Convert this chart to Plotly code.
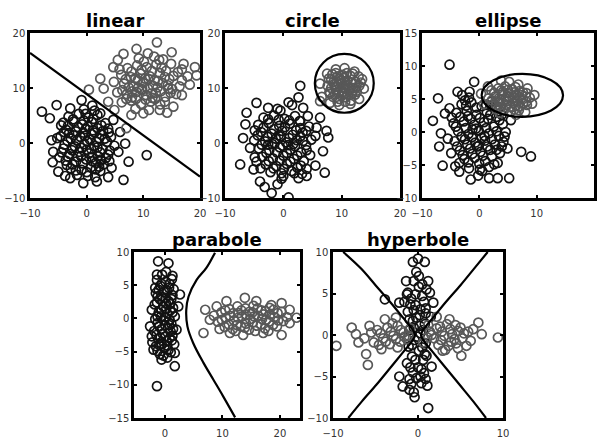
import plotly.graph_objects as go

# ---------------- data ----------------
panel_titles = ["linear", "circle", "ellipse", "parabole", "hyperbole"]

linear_class1 = [
    (-7.9, 5.7), (-6.5, 4.5), (-5.3, 6.9), (-6.2, 0.5), (-5.9, -1.6), (-5.0, -5.2), (-2.9, -6.4),
    (-0.6, -7.3), (1.8, -7.0), (6.5, -6.7), (7.4, -3.4), (10.6, -2.2), (5.6, -1.6), (6.8, -0.1),
    (5.9, 2.0), (4.7, 4.2), (2.4, 5.4), (-0.9, 7.8), (-2.9, 6.3), (-4.5, 3.2), (-6.0, -3.5),
    (-3.8, -6.0), (3.8, -6.2), (4.4, -4.5), (1.0, 6.8),
    (-3.2, 4.8), (-1.4, 5.3), (0.3, 4.6), (1.9, 5.1), (-4.1, 3.7), (-2.3, 3.9), (-0.8, 3.4), (0.9, 3.8),
    (2.6, 3.2), (3.8, 2.6), (-3.6, 2.4), (-1.9, 2.1), (-0.2, 2.5), (1.4, 1.9), (2.9, 2.2), (4.3, 1.1),
    (-4.6, 1.2), (-2.8, 0.8), (-1.1, 1.1), (0.6, 0.6), (2.2, 0.9), (3.6, 0.2), (-3.9, -0.3), (-2.1, -0.6),
    (-0.4, -0.2), (1.3, -0.5), (2.8, -1.1), (4.1, -1.4), (-4.4, -1.7), (-3.0, -2.0), (-1.3, -1.6),
    (0.4, -1.9), (2.0, -2.4), (3.4, -2.7), (-3.7, -3.2), (-1.9, -3.4), (-0.1, -3.0), (1.6, -3.6),
    (3.0, -3.9), (-2.8, -4.6), (-0.9, -4.9), (0.8, -4.4), (2.4, -5.1), (-1.7, -5.8), (0.2, -6.0),
    (1.5, -6.2), (-4.8, -2.6), (-5.2, 0.9), (4.9, -0.5), (-0.5, 6.1), (-2.5, -0.9), (0.9, 1.6),
    (-1.6, -2.5), (1.9, -0.8), (-0.3, 1.3), (2.5, -3.2), (-3.1, 1.8), (0.0, -1.2),
    (-2.4, 4.3), (-0.5, 4.1), (1.2, 4.4), (-3.3, 3.1), (-1.5, 2.9), (0.2, 3.0), (1.9, 2.7), (3.3, 3.6),
    (-4.0, 2.0), (-2.3, 1.4), (-0.6, 1.9), (1.1, 2.3), (2.6, 1.5), (3.9, 1.9), (-3.4, 0.4), (-1.7, 0.5),
    (0.1, 0.3), (1.8, 0.2), (3.2, 0.8), (-4.1, -1.0), (-2.6, -1.3), (-0.9, -0.9), (0.8, -1.1),
    (2.4, -1.7), (3.8, -2.1), (-3.3, -2.5), (-1.0, -2.4), (0.9, -2.6), (2.5, -3.0), (-2.5, -3.9),
    (-0.7, -3.7), (1.0, -3.3), (2.2, -4.3), (-1.9, -5.0), (0.0, -5.3), (1.6, -4.8), (-3.5, -4.0),
    (4.0, -3.3), (-0.2, 5.3), (1.4, 5.9),
]
linear_class2 = [
    (12.4, 18.3), (8.8, 17.1), (6.5, 16.2), (15.0, 16.5), (17.1, 14.4), (19.1, 13.8), (19.4, 12.3),
    (16.8, 11.4), (16.8, 8.7), (15.3, 6.6), (12.9, 6.0), (10.0, 5.4), (7.9, 5.1), (4.9, 6.0), (3.8, 7.5),
    (2.4, 11.7), (3.0, 9.9), (4.7, 13.8), (7.0, 2.7), (0.4, 9.7), (5.5, 15.1), (10.8, 16.3),
    (13.5, 15.2), (18.2, 10.6), (14.2, 5.5),
    (7.2, 13.6), (8.9, 14.1), (10.6, 13.8), (12.3, 14.3), (14.0, 13.1), (6.1, 12.4), (7.8, 12.0),
    (9.5, 12.6), (11.2, 12.1), (12.9, 12.7), (14.6, 11.6), (16.1, 12.9), (6.6, 10.8), (8.3, 10.3),
    (10.0, 10.9), (11.7, 10.4), (13.4, 10.9), (15.1, 9.8), (5.4, 9.2), (7.1, 8.9), (8.8, 9.3),
    (10.5, 8.7), (12.2, 9.1), (13.9, 8.4), (6.2, 7.4), (7.9, 7.7), (9.6, 7.1), (11.3, 7.5), (13.0, 7.0),
    (15.8, 8.9), (9.2, 15.4), (11.9, 15.7), (4.8, 11.1), (16.4, 10.3), (8.6, 6.2), (11.0, 6.0),
    (9.0, 11.4), (10.9, 11.6), (12.6, 11.3), (9.8, 9.8), (11.6, 8.2), (8.0, 8.3), (14.4, 9.9),
    (7.9, 13.0), (9.7, 13.3), (11.5, 13.1), (13.2, 13.7), (6.9, 11.6), (8.6, 11.8), (10.3, 11.7),
    (12.0, 11.4), (13.8, 12.0), (15.3, 12.2), (7.4, 10.1), (9.1, 10.1), (10.8, 9.9), (12.5, 10.1),
    (14.3, 10.5), (6.3, 9.6), (8.0, 9.4), (9.7, 9.6), (11.4, 9.0), (13.1, 9.4), (14.8, 9.1),
    (7.0, 8.0), (8.7, 8.0), (10.4, 7.9), (12.1, 8.0), (13.8, 7.5), (10.1, 14.8), (12.8, 15.1),
    (14.9, 14.4), (16.8, 13.4), (17.8, 12.1), (5.8, 13.4),
]
linear_boundary = [(-10.0, 16.4), (20.0, -6.1)]

circle_class1 = [
    (2.9, 10.4), (2.6, 8.3), (3.4, 6.4), (-4.6, 7.3), (-2.6, 6.4), (-6.3, 5.5), (-6.9, 0.9),
    (-5.7, -0.9), (-7.4, -3.9), (-5.1, -4.8), (-4.0, -7.0), (-2.0, -9.1), (0.9, -9.9), (0.0, -6.0),
    (4.0, -6.0), (7.1, -5.4), (7.7, 1.0), (7.4, 2.2), (5.7, 2.8), (6.3, 4.6), (2.9, 4.0), (-1.0, -7.5),
    (-3.2, -8.0), (5.5, -4.1), (6.8, -1.5), (-6.5, 3.4), (1.5, 6.9), (-0.5, 5.9), (-4.9, -2.6),
    (2.6, -6.4),
    (-3.4, 4.6), (-1.6, 5.0), (0.2, 4.4), (2.0, 4.9), (-4.3, 3.3), (-2.5, 3.6), (-0.7, 3.1), (1.1, 3.5),
    (2.9, 2.7), (4.4, 3.0), (-3.8, 2.0), (-2.0, 1.7), (-0.2, 2.2), (1.6, 1.5), (3.3, 1.9), (4.8, 0.6),
    (-5.0, 0.5), (-3.1, 0.3), (-1.3, 0.8), (0.5, 0.1), (2.3, 0.5), (3.9, -0.4), (-4.2, -1.0),
    (-2.4, -1.3), (-0.6, -0.8), (1.2, -1.2), (3.0, -1.7), (4.6, -2.2), (-3.6, -2.5), (-1.8, -2.8),
    (0.0, -2.3), (1.8, -2.9), (3.5, -3.3), (-3.0, -3.9), (-1.2, -4.2), (0.6, -3.8), (2.4, -4.5),
    (-2.2, -5.3), (-0.3, -5.5), (1.4, -5.1), (3.2, -5.6), (-4.6, -3.4), (-1.0, 6.2), (0.9, 7.4),
    (4.2, 4.9), (-1.5, 0.0), (0.8, -0.4), (-0.4, 1.2), (2.0, -0.6), (-2.6, -0.3),
    (-2.6, 4.3), (-0.8, 4.2), (1.0, 4.1), (2.8, 4.0), (-3.4, 2.8), (-1.6, 2.5), (0.3, 2.9), (2.2, 2.3),
    (3.9, 2.2), (-4.4, 1.4), (-2.7, 1.1), (-0.8, 1.4), (1.0, 0.9), (2.9, 1.2), (-3.7, -0.3),
    (-1.9, -0.2), (-0.1, -0.5), (1.7, -0.2), (3.4, 0.4), (-2.9, -1.8), (-1.1, -1.7), (0.6, -1.8),
    (2.4, -2.3), (4.0, -1.3), (-2.5, -3.3), (-0.6, -3.2), (1.2, -3.4), (3.0, -4.1), (-1.7, -4.6),
    (0.1, -4.7), (1.9, -5.5), (-3.9, -4.6), (4.0, -4.7), (-4.9, 2.3), (5.5, 1.3), (-0.3, -6.5),
]
circle_class2 = [
    (6.3, 10.8), (6.6, 8.4), (7.5, 12.6), (9.0, 13.4), (10.5, 13.6), (12.2, 13.0), (13.5, 11.6),
    (13.8, 9.9), (13.0, 8.0), (11.5, 7.1), (9.6, 6.9), (8.0, 7.3), (6.3, 7.6),
    (8.2, 11.6), (9.3, 12.1), (10.4, 11.8), (11.5, 12.2), (12.4, 11.1), (7.6, 10.4), (8.7, 10.7),
    (9.8, 10.9), (10.9, 10.5), (12.0, 10.0), (13.0, 10.4), (7.9, 9.3), (9.0, 9.6), (10.1, 9.2),
    (11.2, 9.5), (12.3, 8.8), (8.5, 8.4), (9.6, 8.0), (10.7, 8.3), (11.6, 7.7), (9.2, 10.2),
    (10.3, 10.0), (9.9, 11.3), (11.0, 11.3), (8.9, 8.9), (10.5, 9.0), (11.8, 9.0), (8.4, 12.5),
    (10.9, 12.7), (12.9, 12.1),
    (8.6, 11.1), (9.6, 11.7), (10.6, 11.2), (11.6, 11.0), (12.5, 10.1), (8.2, 10.0), (9.4, 9.1),
    (10.0, 8.6), (11.1, 8.8), (12.0, 9.6), (8.9, 10.3), (10.5, 10.6), (11.3, 10.1), (9.0, 12.7),
    (10.1, 12.4), (11.9, 12.6), (8.0, 9.0), (12.6, 9.3), (9.3, 7.5), (10.6, 7.5), (7.8, 11.7),
    (13.3, 11.0),
]
circle_boundary = [5.4, 5.5, 15.5, 16.2]  # x0, y0, x1, y1 of the contour

ellipse_class1 = [
    (-5.2, 10.2), (-7.2, 5.1), (-8.1, 1.7), (-3.8, 6.1), (-1.7, 6.1), (-0.9, 7.6), (-5.2, 3.6),
    (-6.7, -0.2), (-7.0, -2.2), (-6.4, -5.1), (-4.9, -3.2), (-3.5, -6.0), (-1.5, -7.2), (1.7, -7.0),
    (3.2, -7.0), (5.2, -7.0), (3.2, -4.7), (4.9, -2.5), (7.3, -3.0), (9.0, -3.7), (5.5, 1.8),
    (4.4, -0.7), (-6.0, 2.8), (-2.5, 4.8), (2.0, 3.9), (-4.2, -5.2), (0.5, -5.9), (3.9, 2.6),
    (-3.1, 4.2), (-1.4, 4.5), (0.4, 3.9), (2.1, 4.6), (-4.0, 2.9), (-2.2, 3.2), (-0.5, 2.6), (1.3, 3.0),
    (3.0, 2.3), (-4.5, 1.3), (-2.7, 1.6), (-0.9, 1.1), (0.8, 1.5), (2.5, 0.8), (4.1, 1.2), (-3.7, 0.1),
    (-1.9, -0.3), (-0.1, 0.2), (1.7, -0.2), (3.4, -0.6), (-4.3, -1.4), (-2.5, -1.1), (-0.7, -1.6),
    (1.0, -1.3), (2.7, -1.9), (-3.4, -2.8), (-1.6, -2.5), (0.2, -3.0), (1.9, -2.7), (3.6, -3.2),
    (-2.6, -4.1), (-0.8, -3.9), (1.0, -4.4), (2.6, -4.9), (-1.8, -5.5), (0.1, -5.7), (-5.5, -1.0),
    (-3.0, 5.6), (4.2, -1.5), (-0.2, -6.6), (-1.2, 0.4), (0.9, -0.6), (-2.0, 2.4), (1.5, 2.0),
    (-0.4, -2.2),
    (-2.3, 4.0), (-0.5, 3.7), (1.2, 4.1), (-3.3, 2.3), (-1.5, 2.0), (0.1, 2.1), (1.9, 2.6), (3.5, 1.8),
    (-4.1, 0.8), (-2.4, 0.6), (-0.6, 0.5), (1.2, 0.6), (3.0, 0.1), (-3.1, -0.7), (-1.3, -0.8),
    (0.4, -0.9), (2.2, -1.1), (3.9, -2.2), (-3.9, -2.2), (-2.1, -1.9), (-0.1, -2.1), (1.4, -2.2),
    (3.0, -2.7), (-2.9, -3.5), (-1.2, -3.3), (0.6, -3.6), (2.2, -3.7), (-1.9, -4.6), (0.0, -4.8),
    (1.7, -5.3), (-3.5, -4.7), (-4.8, 2.2), (4.6, 0.0), (-1.8, 5.2),
]
ellipse_class2 = [
    (9.6, 5.6), (8.4, 6.6), (5.2, 7.6), (3.8, 7.8), (0.3, 5.8), (0.8, 4.2), (1.5, 6.9), (6.8, 7.2),
    (9.2, 4.3), (8.0, 3.0), (6.4, 2.6), (3.6, 2.9),
    (2.1, 6.3), (3.3, 6.6), (4.5, 6.9), (5.7, 6.5), (7.0, 6.2), (8.2, 5.9), (1.6, 5.1), (2.8, 5.4),
    (4.0, 5.7), (5.2, 5.3), (6.4, 5.6), (7.6, 5.0), (8.8, 5.2), (2.3, 4.2), (3.5, 4.5), (4.7, 4.1),
    (5.9, 4.4), (7.1, 3.9), (8.3, 4.1), (3.0, 3.4), (4.3, 3.3), (5.5, 3.1), (6.9, 3.3), (4.1, 6.1),
    (6.1, 6.0), (3.8, 4.9), (6.7, 4.7), (5.0, 5.9), (7.4, 5.6),
    (2.6, 5.9), (3.8, 6.3), (5.0, 6.4), (6.3, 6.8), (7.6, 6.0), (2.2, 4.8), (3.4, 5.1), (4.6, 5.0),
    (5.8, 5.0), (7.0, 5.3), (8.2, 4.6), (2.9, 4.0), (4.1, 4.4), (5.3, 3.8), (6.4, 4.0), (7.6, 4.3),
    (3.7, 3.7), (6.1, 3.4), (4.9, 4.7), (6.2, 5.2),
]
ellipse_boundary = [0.4, 2.3, 14.6, 8.8]  # x0, y0, x1, y1 of the contour

parabole_class1 = [
    (-1.2, 8.6), (0.6, 8.3), (-1.4, 6.6), (-1.7, 4.6), (2.6, 3.6), (-2.3, 1.3), (-2.6, -1.2),
    (-2.3, -2.7), (-2.0, -4.7), (-0.6, -6.2), (1.7, -7.2), (-1.4, -10.2), (2.3, 1.8), (2.0, -1.7),
    (1.7, -5.2), (1.3, 6.4), (0.2, 7.0), (-2.2, -3.6),
    (-1.4, 5.8), (0.1, 5.5), (1.2, 5.9), (-0.8, 4.9), (0.7, 4.6), (-1.6, 3.8), (-0.2, 4.0), (1.3, 3.5),
    (-0.9, 2.9), (0.6, 2.6), (-1.8, 2.1), (-0.3, 1.8), (1.4, 1.6), (-1.1, 0.9), (0.4, 0.7), (1.7, 0.3),
    (-1.7, -0.1), (-0.2, -0.3), (1.1, -0.8), (-1.0, -1.2), (0.5, -1.5), (-1.9, -1.9), (-0.4, -2.3),
    (1.3, -2.6), (-1.2, -3.1), (0.3, -3.4), (1.6, -3.9), (-1.6, -4.2), (-0.1, -4.5), (1.0, -5.1),
    (-0.9, -5.4), (0.4, -5.9), (-0.6, 3.3), (0.0, -1.0), (-0.5, 6.6), (0.9, 1.2), (-0.7, 0.3),
    (0.8, -3.0), (-0.6, -3.8), (0.2, 2.2),
    (-0.6, 5.2), (0.8, 5.2), (-1.1, 4.3), (0.3, 4.2), (1.5, 4.4), (-1.3, 3.3), (0.1, 3.1), (1.1, 2.9),
    (-1.4, 2.4), (0.9, 2.2), (-0.6, 1.3), (0.2, 1.4), (1.3, 0.9), (-1.3, 0.3), (0.0, 0.2), (0.8, -0.2),
    (-1.3, -0.7), (-0.6, -1.6), (0.7, -1.0), (1.4, -1.6), (-1.5, -2.5), (0.1, -2.7), (1.0, -2.0),
    (-0.8, -2.9), (1.2, -3.3), (-1.0, -4.0), (0.4, -4.1), (-1.3, -4.9), (0.6, -4.8), (-0.3, -5.6),
]
parabole_class2 = [
    (7.0, 1.3), (6.7, -2.2), (7.8, -0.2), (9.0, 1.8), (10.7, 2.6), (13.9, 3.1), (15.9, 2.6),
    (20.3, 2.3), (21.7, 1.3), (22.9, 0.1), (21.7, -0.7), (20.3, -2.5), (17.1, -2.2), (13.6, -2.5),
    (11.3, -2.2), (18.5, 2.0), (9.5, -1.6),
    (9.8, 0.9), (11.2, 1.4), (12.6, 1.8), (14.0, 1.5), (15.4, 1.9), (16.8, 1.2), (18.2, 1.6),
    (19.6, 0.8), (9.2, -0.5), (10.6, 0.1), (12.0, -0.3), (13.4, 0.3), (14.8, -0.1), (16.2, 0.4),
    (17.6, -0.2), (19.0, 0.2), (20.6, -0.4), (10.4, -1.3), (11.8, -1.6), (13.2, -1.2), (14.6, -1.7),
    (16.0, -1.1), (17.4, -1.5), (18.8, -1.0), (15.2, 0.9), (12.8, 0.8), (17.1, 0.6), (14.1, -0.8),
    (10.5, 1.2), (11.9, 0.8), (13.3, 1.2), (14.7, 1.0), (16.1, 1.5), (17.5, 1.1), (18.9, 1.3),
    (20.3, 1.0), (9.9, -0.2), (11.3, 0.4), (12.7, 0.1), (14.1, 0.6), (15.5, 0.3), (16.9, -0.1),
    (18.3, 0.6), (19.7, -0.3), (21.2, 0.2), (11.1, -0.9), (12.5, -1.0), (13.9, -1.4), (15.3, -0.6),
    (16.7, -0.9), (18.1, -0.5), (19.5, -1.2), (12.3, -1.9), (15.7, -1.9), (18.0, -1.9), (8.5, 0.4),
]
parabole_boundary = [
    (8.7, 9.9), (7.2, 7.6), (5.5, 5.8), (4.1, 3.3), (3.7, 1.3), (3.9, -1.2), (4.9, -3.7),
    (6.7, -6.7), (8.4, -9.2), (10.1, -11.7), (12.2, -14.9),
]

hyperbole_class1 = [
    (0.0, 9.2), (-0.6, 8.8), (0.8, 8.8), (-0.2, 7.6), (-1.4, 6.5), (1.2, 6.5), (1.4, 5.1),
    (-1.2, 5.1), (-3.9, 4.3), (-2.2, 3.9), (1.8, 3.9), (1.0, -2.5), (1.6, -3.8), (-2.2, -5.0),
    (-1.8, -6.2), (-1.0, -6.6), (0.4, -5.8), (1.2, -8.8), (-0.5, -6.9), (1.1, -6.1),
    (-0.8, 4.4), (0.5, 4.7), (-0.3, 3.6), (0.9, 3.2), (-1.2, 2.8), (0.2, 2.4), (-0.6, 1.7), (0.8, 1.3),
    (-1.0, 0.6), (0.3, 0.2), (-0.4, -0.6), (0.9, -1.0), (-1.1, -1.4), (0.1, -1.9), (-0.7, -2.6),
    (0.6, -3.0), (-1.3, -3.4), (0.0, -3.9), (-0.6, -4.5), (0.7, -4.6), (-0.2, -5.2), (-1.6, 4.0),
    (1.5, 2.2), (0.1, 5.8), (-0.5, 3.0),
    (-0.3, 4.9), (0.7, 4.0), (-0.9, 3.7), (0.3, 3.1), (-0.2, 2.1), (0.9, 2.6), (-1.0, 1.9), (0.2, 1.1),
    (-0.5, 0.9), (0.6, 0.6), (-0.1, -0.2), (0.5, -1.5), (-0.7, -1.2), (-0.3, -3.0), (0.8, -2.3),
    (-0.9, -3.9), (0.4, -4.1), (-1.0, -5.3), (0.3, -5.0), (-0.5, 6.5), (0.5, 6.1), (0.1, 7.1),
    (-0.8, -5.9), (0.9, -5.3), (-1.3, 4.9), (1.0, 5.5), (-0.4, -7.5),
]
hyperbole_class2 = [
    (-9.6, -1.3), (-7.8, 0.9), (-7.3, 0.1), (-7.0, -0.9), (-5.7, 1.1), (-6.1, -2.3), (-5.9, -3.6),
    (-4.3, -1.7), (-3.9, 1.9), (3.7, 1.9), (4.7, 0.5), (5.7, -1.3), (5.1, -2.5), (7.1, 1.5),
    (7.5, 0.1), (6.5, 0.7), (9.4, -0.3), (2.9, -1.9), (-2.6, 2.1), (2.2, 2.2),
    (-4.8, 0.6), (-3.6, 0.9), (-2.4, 1.1), (-4.1, -0.4), (-2.9, -0.1), (-1.7, 0.3), (-3.3, -1.1),
    (-2.1, -0.8), (-5.2, -0.9), (-1.3, -0.5), (1.4, 0.4), (2.6, 1.0), (3.8, 0.7), (5.0, 0.9),
    (1.9, -0.4), (3.1, -0.1), (4.3, -0.5), (5.4, 0.2), (2.4, -1.2), (3.6, -1.3), (4.7, -1.6),
    (1.2, 1.2), (-0.9, 0.8), (0.6, -0.9),
    (-4.4, 0.2), (-3.2, 0.4), (-2.0, 0.6), (-3.8, -0.8), (-2.6, -0.5), (-1.6, -0.2), (-4.6, -1.2),
    (-3.0, 1.4), (-5.5, 0.3), (-6.3, -0.4), (-2.4, -1.5), (1.6, 0.0), (2.8, 0.4), (4.0, 0.1),
    (5.2, -0.4), (2.2, 0.8), (3.4, 1.3), (4.4, 1.2), (2.7, -0.6), (3.9, -0.8), (5.9, 0.4),
    (3.2, -1.8), (4.5, -1.0), (6.2, -0.7), (1.1, -0.3), (-1.1, -0.1),
]
hyperbole_left = [
    (-8.8, 10.0), (-6.7, 8.0), (-5.0, 6.0), (-3.3, 4.0), (-1.7, 2.0), (-0.9, 1.0), (-0.35, 0.0),
    (-0.9, -1.0), (-1.7, -2.0), (-3.3, -4.0), (-4.9, -6.0), (-6.6, -8.0), (-8.2, -10.0),
]
hyperbole_right = [
    (8.2, 10.0), (6.6, 8.0), (5.0, 6.0), (3.3, 4.0), (1.7, 2.0), (0.9, 1.0), (0.35, 0.0),
    (0.9, -1.0), (1.7, -2.0), (3.3, -4.0), (4.9, -6.0), (6.5, -8.0), (8.0, -10.0),
]

# ---------------- layout constants ----------------
W, H = 598, 441
panels = [
    dict(px=(30, 200), py=(33, 198), xr=[-10, 20], yr=[-10, 20], xt=[-10, 0, 10, 20], yt=[-10, 0, 10, 20]),
    dict(px=(225, 400), py=(33, 198), xr=[-10, 20], yr=[-10, 20], xt=[-10, 0, 10, 20], yt=[-10, 0, 10, 20]),
    dict(px=(422, 594), py=(33, 198), xr=[-10, 20], yr=[-10, 15], xt=[-10, 0, 10, 20], yt=[-10, -5, 0, 5, 10, 15]),
    dict(px=(134, 300), py=(252, 418), xr=[-5.4, 23.5], yr=[-15, 10], xt=[0, 10, 20], yt=[-15, -10, -5, 0, 5, 10]),
    dict(px=(333, 503), py=(252, 418), xr=[-10, 10], yr=[-10, 10], xt=[-10, 0, 10], yt=[-10, -5, 0, 5, 10]),
]

C1 = "#121212"
C2 = "#585858"
fig = go.Figure()


def split(pts):
    return [p[0] for p in pts], [p[1] for p in pts]


def add_points(i, pts, color):
    xs, ys = split(pts)
    fig.add_trace(go.Scatter(
        x=xs, y=ys, mode="markers", xaxis=f"x{i+1}", yaxis=f"y{i+1}", showlegend=False,
        marker=dict(symbol="circle-open", size=9, color=color, line=dict(width=1.7, color=color)),
    ))


def add_curve(i, pts):
    xs, ys = split(pts)
    fig.add_trace(go.Scatter(
        x=xs, y=ys, mode="lines", xaxis=f"x{i+1}", yaxis=f"y{i+1}", showlegend=False,
        line=dict(color="black", width=2.2, shape="spline"),
    ))


classes = [
    (linear_class1, linear_class2), (circle_class1, circle_class2), (ellipse_class1, ellipse_class2),
    (parabole_class1, parabole_class2), (hyperbole_class1, hyperbole_class2),
]
for i, (a, b) in enumerate(classes):
    add_points(i, a, C1)
    add_points(i, b, C2)

add_curve(0, linear_boundary)
add_curve(3, parabole_boundary)
add_curve(4, hyperbole_left)
add_curve(4, hyperbole_right)

for i, bnd in ((1, circle_boundary), (2, ellipse_boundary)):
    fig.add_shape(type="circle", xref=f"x{i+1}", yref=f"y{i+1}",
                  x0=bnd[0], y0=bnd[1], x1=bnd[2], y1=bnd[3],
                  line=dict(color="black", width=2.2))

layout = dict(width=W, height=H, margin=dict(l=0, r=0, t=0, b=0, autoexpand=False),
              paper_bgcolor="white", plot_bgcolor="white",
              font=dict(family="DejaVu Sans", size=10, color="#333333"))
annotations = []
for i, p in enumerate(panels):
    xd = [p["px"][0] / W, p["px"][1] / W]
    yd = [1 - p["py"][1] / H, 1 - p["py"][0] / H]
    common = dict(showgrid=False, zeroline=False, showline=True, linecolor="black", linewidth=2.5,
                  mirror="ticks", ticks="inside", ticklen=3, tickwidth=2, tickcolor="black",
                  automargin=False,
                  tickfont=dict(family="DejaVu Sans", size=10, color="#333333"))
    layout[f"xaxis{i+1}"] = dict(domain=xd, range=p["xr"], tickvals=p["xt"], anchor=f"y{i+1}",
                                 ticklabelstandoff=4, **common)
    layout[f"yaxis{i+1}"] = dict(domain=yd, range=p["yr"], tickvals=p["yt"], anchor=f"x{i+1}", **common)
    annotations.append(dict(text=f"<b>{panel_titles[i]}</b>", xref="paper", yref="paper",
                            x=(xd[0] + xd[1]) / 2, y=yd[1], yanchor="bottom", xanchor="center",
                            yshift=0, showarrow=False,
                            font=dict(family="DejaVu Sans", size=18, color="black")))
layout["annotations"] = annotations
fig.update_layout(**layout)
fig.write_html("out.html", config={"displayModeBar": False},
               post_script="document.body.style.margin='0';")
